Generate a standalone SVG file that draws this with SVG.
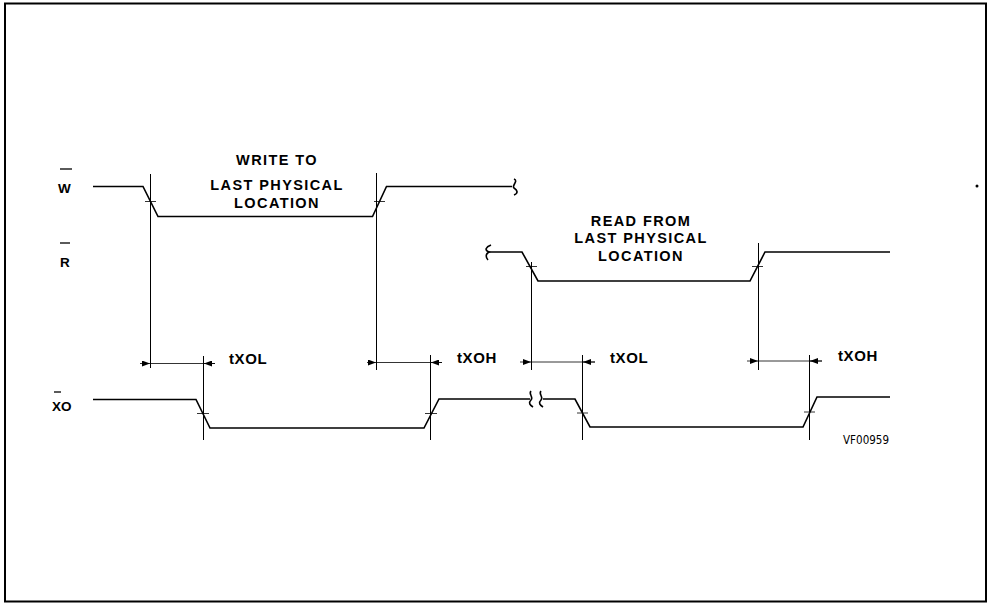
<svg xmlns="http://www.w3.org/2000/svg" width="990" height="604" viewBox="0 0 990 604">
<style>
.sig{fill:none;stroke:#000;stroke-width:1.6;stroke-linejoin:miter}
.ext{fill:none;stroke:#000;stroke-width:1}
.tick{fill:none;stroke:#000;stroke-width:0.8}
.dim{fill:none;stroke:#000;stroke-width:0.8}
.bar{stroke:#000;stroke-width:1.3}
.lbl{font-family:"Liberation Sans",Arial,sans-serif;font-weight:bold;font-size:14.5px;letter-spacing:1.4px;fill:#000;text-anchor:middle}
.tl{font-family:"Liberation Sans",Arial,sans-serif;font-weight:bold;font-size:15px;letter-spacing:0.6px;fill:#000}
.sn{font-family:"Liberation Sans",Arial,sans-serif;font-weight:bold;font-size:13.5px;fill:#000}
.ref{font-family:"Liberation Sans Narrow","DejaVu Sans Condensed",sans-serif;font-size:12px;fill:#000}
</style>
<defs>
<marker id="ah" viewBox="0 0 8 6" refX="8" refY="3" markerWidth="8" markerHeight="6" markerUnits="userSpaceOnUse" orient="auto">
<path d="M0,0 L8,3 L0,6 Z" fill="#000"/>
</marker>
</defs>
<rect x="5" y="3.5" width="981" height="598" fill="#fff" stroke="#000" stroke-width="2"/>

<g id="label-W"><text class="sn" x="58" y="193">W</text><line class="bar" x1="60" y1="169" x2="72" y2="169"/></g>
<g id="label-R"><text class="sn" x="60" y="267">R</text><line class="bar" x1="60" y1="243" x2="70" y2="243"/></g>
<g id="label-XO"><text class="sn" x="52" y="411">XO</text><line class="bar" x1="54" y1="392" x2="61" y2="392"/></g>

<g id="signal-W">
<path class="sig" d="M93,186.5 H143 L158,216.5 H372.5 L386.5,186.5 H512"/>
<path class="sig" d="M514,179 C519,181 511,186 514,188 C517,190 519,193 514,195"/>
<line class="tick" x1="145" y1="201.5" x2="156" y2="201.5"/>
<line class="tick" x1="374" y1="201.5" x2="385" y2="201.5"/>
</g>

<g id="signal-R">
<path class="sig" d="M489,252 H522 L538,281 H750 L765,252 H890"/>
<path class="sig" d="M491,245 C486,247 484,250 489,252 C485,254 486,258 488,260"/>
<line class="tick" x1="526" y1="266.5" x2="537" y2="266.5"/>
<line class="tick" x1="752" y1="266.5" x2="763" y2="266.5"/>
</g>

<g id="signal-XO">
<path class="sig" d="M93,399.5 H196 L210,428 H424 L439,399 H530"/>
<path class="sig" d="M543,399 H575 L590,427 H803 L817,397 H890"/>
<path class="sig" d="M531,391 C528,394 534,397 531,400 C528,403 530,405 533,407"/>
<path class="sig" d="M541,391 C538,394 544,397 541,400 C538,403 540,405 543,407"/>
<line class="tick" x1="197" y1="413.5" x2="209" y2="413.5"/>
<line class="tick" x1="425" y1="413.5" x2="437" y2="413.5"/>
<line class="tick" x1="577" y1="413" x2="588" y2="413"/>
<line class="tick" x1="804" y1="412" x2="815" y2="412"/>
</g>

<g id="text-write">
<text class="lbl" x="277" y="165">WRITE TO</text>
<text class="lbl" x="277" y="190">LAST PHYSICAL</text>
<text class="lbl" x="277" y="208">LOCATION</text>
</g>
<g id="text-read">
<text class="lbl" x="641" y="226">READ FROM</text>
<text class="lbl" x="641" y="243">LAST PHYSICAL</text>
<text class="lbl" x="641" y="261">LOCATION</text>
</g>

<g id="connectors">
<line class="ext" x1="150.5" y1="174" x2="150.5" y2="368"/>
<line class="ext" x1="376.5" y1="173" x2="376.5" y2="370"/>
<line class="ext" x1="531.5" y1="262" x2="531.5" y2="370"/>
<line class="ext" x1="758.5" y1="243" x2="758.5" y2="370"/>
<line class="ext" x1="203.5" y1="356" x2="203.5" y2="440"/>
<line class="ext" x1="430.5" y1="355" x2="430.5" y2="440"/>
<line class="ext" x1="582.5" y1="355" x2="582.5" y2="440"/>
<line class="ext" x1="809.5" y1="355" x2="809.5" y2="440"/>

<line class="dim" x1="140" y1="363.5" x2="150" y2="363.5" marker-end="url(#ah)"/>
<line class="dim" x1="150" y1="363.5" x2="215" y2="363.5"/>
<line class="dim" x1="215" y1="363.5" x2="204" y2="363.5" marker-end="url(#ah)"/>

<line class="dim" x1="367" y1="362.5" x2="376" y2="362.5" marker-end="url(#ah)"/>
<line class="dim" x1="376" y1="362.5" x2="442" y2="362.5"/>
<line class="dim" x1="442" y1="362.5" x2="431" y2="362.5" marker-end="url(#ah)"/>

<line class="dim" x1="520" y1="362" x2="531" y2="362" marker-end="url(#ah)"/>
<line class="dim" x1="531" y1="362" x2="595" y2="362"/>
<line class="dim" x1="595" y1="362" x2="583" y2="362" marker-end="url(#ah)"/>

<line class="dim" x1="747" y1="361" x2="758" y2="361" marker-end="url(#ah)"/>
<line class="dim" x1="758" y1="361" x2="822" y2="361"/>
<line class="dim" x1="822" y1="361" x2="810" y2="361" marker-end="url(#ah)"/>
</g>

<g id="timing-labels">
<text class="tl" x="229" y="364">tXOL</text>
<text class="tl" x="457" y="363">tXOH</text>
<text class="tl" x="610" y="363">tXOL</text>
<text class="tl" x="838" y="361">tXOH</text>
</g>

<text class="ref" x="843" y="444" textLength="46" lengthAdjust="spacingAndGlyphs">VF00959</text>
<circle cx="977" cy="186" r="1.5" fill="#000"/>
</svg>
